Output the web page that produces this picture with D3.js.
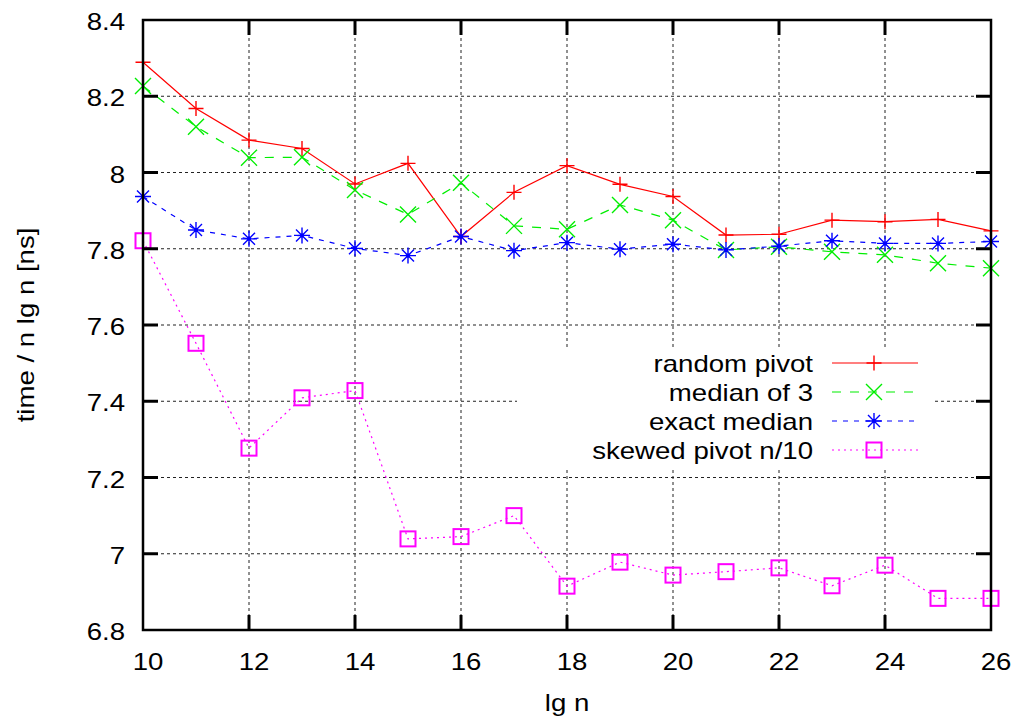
<!DOCTYPE html>
<html>
<head>
<meta charset="utf-8">
<script src="https://cdn.jsdelivr.net/npm/d3@7"></script>
<style>
  body { margin: 0; background: #fff; }
  svg { display: block; font-family: "Liberation Sans", Arial, Helvetica, sans-serif; }
  .grid { stroke: #222; stroke-width: 1; stroke-dasharray: 3,3; fill: none; }
  .tick_mark { stroke: #000; stroke-width: 3; }
</style>
</head>
<body>
<svg id="viz" width="1013" height="720"></svg>
<script>
// lg n values
var lgn = [10,11,12,13,14,15,16,17,18,19,20,21,22,23,24,25,26]

var random_pivot = [8.289,8.168,8.085,8.063,7.970,8.024,7.832,7.948,8.018,7.969,7.937,7.836,7.838,7.875,7.871,7.877,7.847]
var median_of_3  = [8.227,8.120,8.039,8.040,7.954,7.890,7.973,7.860,7.851,7.915,7.875,7.797,7.805,7.792,7.784,7.762,7.749]
var exact_median = [7.937,7.849,7.826,7.835,7.801,7.782,7.832,7.795,7.816,7.799,7.812,7.797,7.807,7.821,7.814,7.814,7.819]
var skewed_pivot = [7.821,7.552,7.277,7.409,7.428,7.039,7.045,7.100,6.915,6.978,6.944,6.953,6.963,6.916,6.970,6.883,6.883]

var xTicks = [10,12,14,16,18,20,22,24,26]
var yTicks = [6.8,7,7.2,7.4,7.6,7.8,8,8.2,8.4]

var seriesNames = ["random pivot","median of 3","exact median","skewed pivot n/10"]

var svg = d3.select("#viz")

// plot box (note: "top" is taken by window.top)
var pLeft = 143, pRight = 991, pTop = 20, pBottom = 630

var x = d3.scaleLinear().domain([10,26]).range([pLeft,pRight])
var y = d3.scaleLinear().domain([6.8,8.4]).range([pBottom,pTop])

// gnuplot's font is wider than Liberation Sans, so stretch text a bit
function label(tx, ty, txt, anchor, rot) {
    var tr = `translate(${tx},${ty})` + (rot ? ` rotate(${rot})` : "") + " scale(1.2,1)"
    return svg.append("text")
        .attr("transform", tr)
        .attr("text-anchor", anchor)
        .attr("font-size", 23)
        .text(txt)
}

// grid
xTicks.forEach(t => {
    if (t == 10 || t == 26) return
    svg.append("line").attr("class","grid")
        .attr("x1",x(t)).attr("x2",x(t)).attr("y1",pTop).attr("y2",pBottom)
})
yTicks.forEach(t => {
    if (t == 6.8 || t == 8.4) return
    svg.append("line").attr("class","grid")
        .attr("x1",pLeft).attr("x2",pRight).attr("y1",y(t)).attr("y2",y(t))
})

// key box hides the grid behind it
svg.append("rect")
    .attr("x",517).attr("y",349).attr("width",416).attr("height",118)
    .attr("fill","#fff")

var styles = [
    {data: random_pivot, color:"#ff0000", dash:null,  mark:"plus"},
    {data: median_of_3,  color:"#00ee00", dash:"9,9", mark:"cross"},
    {data: exact_median, color:"#0000ff", dash:"5,6", mark:"star"},
    {data: skewed_pivot, color:"#ff00ff", dash:"2,4", mark:"square"}
]

function marker(g, type, color) {
    if (type == "plus") {
        g.append("path").attr("d","M-7.5,0H7.5M0,-7.5V7.5")
         .attr("stroke",color).attr("stroke-width",1.4).attr("fill","none")
    } else if (type == "cross") {
        g.append("path").attr("d","M-8,-8L8,8M-8,8L8,-8")
         .attr("stroke",color).attr("stroke-width",1.4).attr("fill","none")
    } else if (type == "star") {
        g.append("path").attr("d","M-8,0H8M0,-8V8M-6,-6L6,6M-6,6L6,-6")
         .attr("stroke",color).attr("stroke-width",1.4).attr("fill","none")
        g.append("circle").attr("r",2).attr("fill",color)
    } else {
        g.append("rect").attr("x",-7.5).attr("y",-7.5).attr("width",15).attr("height",15)
         .attr("stroke",color).attr("stroke-width",2).attr("fill","none")
    }
}

var line = d3.line().x((d,i) => x(lgn[i])).y(d => y(d))

styles.forEach(s => {
    svg.append("path")
        .attr("d", line(s.data))
        .attr("fill","none")
        .attr("stroke",s.color)
        .attr("stroke-width",1.2)
        .attr("stroke-dasharray",s.dash)
    s.data.forEach((d,i) => {
        var g = svg.append("g").attr("transform",`translate(${x(lgn[i])},${y(d)})`)
        marker(g, s.mark, s.color)
    })
})

// legend
styles.forEach((s,i) => {
    var ly = 363 + i*29
    label(813, ly+9, seriesNames[i], "end")
    svg.append("line")
        .attr("x1",832).attr("x2",918).attr("y1",ly).attr("y2",ly)
        .attr("stroke",s.color).attr("stroke-width",1.2)
        .attr("stroke-dasharray",s.dash)
    var g = svg.append("g").attr("transform",`translate(874,${ly})`)
    marker(g, s.mark, s.color)
})

// ticks, inward on all four sides
xTicks.forEach(t => {
    if (t != 10 && t != 26) {
        svg.append("line").attr("class","tick_mark")
            .attr("x1",x(t)).attr("x2",x(t)).attr("y1",pBottom).attr("y2",pBottom-15)
        svg.append("line").attr("class","tick_mark")
            .attr("x1",x(t)).attr("x2",x(t)).attr("y1",pTop).attr("y2",pTop+15)
    }
    label(x(t)+5, 670, t, "middle")
})
yTicks.forEach(t => {
    if (t != 6.8 && t != 8.4) {
        svg.append("line").attr("class","tick_mark")
            .attr("x1",pLeft).attr("x2",pLeft+15).attr("y1",y(t)).attr("y2",y(t))
        svg.append("line").attr("class","tick_mark")
            .attr("x1",pRight).attr("x2",pRight-15).attr("y1",y(t)).attr("y2",y(t))
    }
    label(125, y(t)+10, +t.toFixed(1), "end")
})

// border
svg.append("rect")
    .attr("x",pLeft).attr("y",pTop).attr("width",pRight-pLeft).attr("height",pBottom-pTop)
    .attr("fill","none").attr("stroke","#000").attr("stroke-width",2.5)

// axis titles
label((pLeft+pRight)/2, 711, "lg n", "middle")
label(34, (pTop+pBottom)/2, "time / n lg n [ns]", "middle", -90)
</script>
</body>
</html>
